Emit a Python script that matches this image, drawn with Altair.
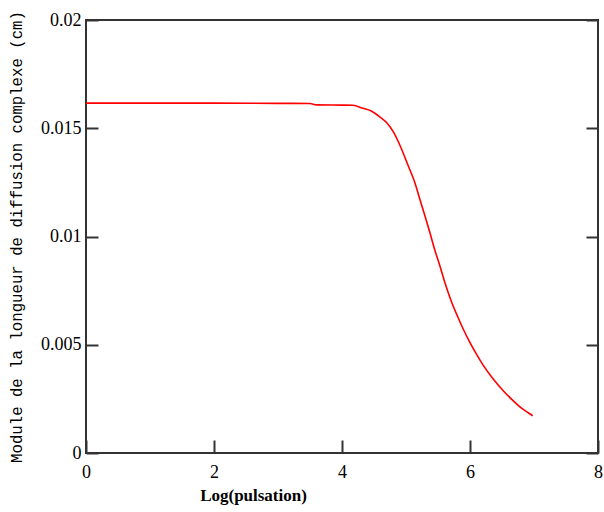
import altair as alt
import pandas as pd

# Modulus of the complex diffusion length versus log of the pulsation
log_pulsation = [0.0, 1.0, 2.0, 3.0, 3.5, 3.6, 4.0, 4.17, 4.33, 4.45, 4.59, 4.70,
                 4.80, 4.91, 5.03, 5.14, 5.22, 5.30, 5.375, 5.45, 5.53, 5.61,
                 5.70, 5.81, 5.89, 6.00, 6.11, 6.20, 6.375, 6.53, 6.69, 6.81,
                 6.91, 6.98]
module_cm = [0.01616, 0.01616, 0.01616, 0.01615, 0.01614, 0.01608, 0.01607, 0.01606,
             0.01592, 0.01581, 0.01553, 0.01525, 0.01484, 0.01418, 0.01330,
             0.01247, 0.01169, 0.01091, 0.01016, 0.00938, 0.00864, 0.00785,
             0.00707, 0.00628, 0.00575, 0.00510, 0.00452, 0.00408, 0.00337,
             0.00284, 0.00237, 0.00206, 0.00186, 0.00172]

x_ticks = [0, 2, 4, 6, 8]
y_ticks = [0, 0.005, 0.01, 0.015, 0.02]

df = pd.DataFrame({"x": log_pulsation, "y": module_cm})

W, H = 512, 433
FRAME = "#333333"
LABEL_FONT = "Liberation Sans Narrow"

x_scale = alt.Scale(domain=[0, 8], nice=False, zero=False)
y_scale = alt.Scale(domain=[0, 0.02], nice=False, zero=False)

base = alt.Chart(df)

# Curve with labelled axes (labels only, ticks drawn by the inner axes)
curve = base.mark_line(color="#ff0000", strokeWidth=1.6, interpolate="monotone").encode(
    x=alt.X("x:Q", scale=x_scale,
            axis=alt.Axis(orient="bottom", values=x_ticks, ticks=False, domain=False,
                          grid=False, labelFont=LABEL_FONT, labelFontSize=18,
                          labelColor="#000", labelPadding=10,
                          labelFlush=False, format="d",
                          title="Log(pulsation)", titleFont="Liberation Serif",
                          titleFontSize=17, titleFontWeight="bold", titleColor="#000",
                          titleAlign="center", titleBaseline="alphabetic",
                          titleX=167, titleY=47)),
    y=alt.Y("y:Q", scale=y_scale,
            axis=alt.Axis(orient="left", values=y_ticks, ticks=False, domain=False,
                          grid=False, labelFont=LABEL_FONT, labelFontSize=18,
                          labelColor="#000", labelPadding=5, labelFlush=False,
                          labelExpr="datum.value == 0 ? '0' : format(datum.value, '.3~f')",
                          title="Module de la longueur de diffusion complexe (cm)",
                          titleFont="Liberation Mono", titleFontSize=15.7,
                          titleFontWeight="normal", titleColor="#000",
                          titleAngle=270, titleAlign="center", titleBaseline="middle",
                          titleX=-70, titleY=216.5)),
)

tick_style = dict(labels=False, domain=False, grid=False, title=None,
                  tickColor=FRAME, tickWidth=2)

# Inward ticks along the bottom edge and the left edge
inner_a = base.mark_line(opacity=0).encode(
    x=alt.X("x:Q", scale=x_scale,
            axis=alt.Axis(orient="top", offset=-H, values=x_ticks, tickSize=13,
                          **tick_style)),
    y=alt.Y("y:Q", scale=y_scale,
            axis=alt.Axis(orient="right", offset=-W, values=y_ticks, tickSize=12,
                          **tick_style)),
)

# Inward ticks along the right edge
inner_b = base.mark_line(opacity=0).encode(
    x=alt.X("x:Q", scale=x_scale, axis=None),
    y=alt.Y("y:Q", scale=y_scale,
            axis=alt.Axis(orient="left", offset=-W, values=y_ticks, tickSize=12,
                          **tick_style)),
)

chart = (
    alt.layer(curve, inner_a, inner_b)
    .resolve_axis(x="independent", y="independent")
    .properties(width=W, height=H, autosize="none",
                padding={"left": 86, "top": 20, "right": 6, "bottom": 59},
                background="#ffffff")
    .configure_view(stroke=FRAME, strokeWidth=2)
)

chart.save("out.html", embed_options={"renderer": "svg", "actions": False})
